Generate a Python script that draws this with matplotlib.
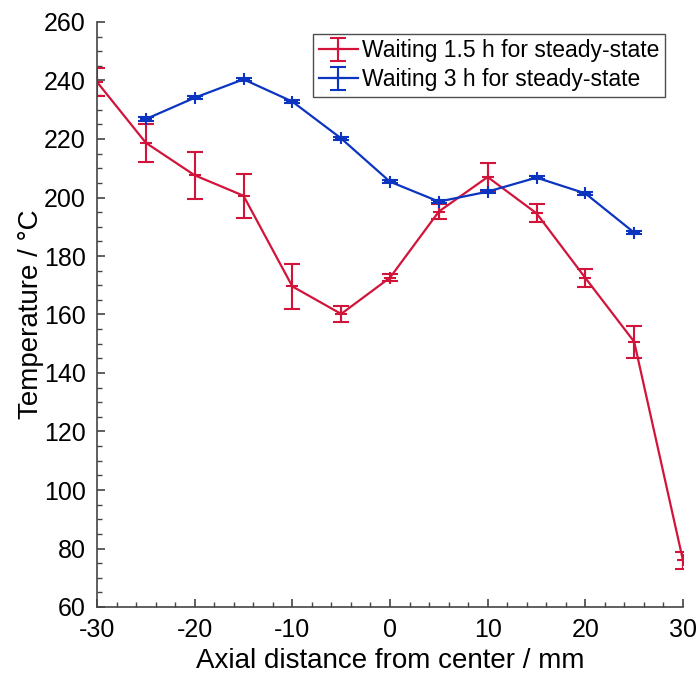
import numpy as np
import matplotlib.pyplot as plt

plt.rcParams['font.family'] = ['Liberation Sans', 'DejaVu Sans']
plt.rcParams['axes.unicode_minus'] = False

# Messpunkte (axial distance in mm)
x_15h = [-30, -25, -20, -15, -10, -5, 0, 5, 10, 15, 20, 25, 30]
t_15h = [239.5, 218.7, 207.6, 200.6, 169.6, 160.2, 172.6, 195.2, 207.0, 194.6, 172.5, 150.7, 75.9]
err_15h = [4.8, 6.5, 8.0, 7.5, 7.8, 2.7, 1.2, 2.6, 4.7, 3.1, 3.1, 5.5, 2.9]

x_3h = [-25, -20, -15, -10, -5, 0, 5, 10, 15, 20, 25]
t_3h = [226.8, 234.1, 240.4, 232.8, 220.2, 205.4, 198.6, 202.0, 206.8, 201.4, 188.0]
err_3h = [0.6, 0.5, 0.5, 0.5, 0.5, 0.5, 0.6, 0.6, 0.5, 0.5, 0.5]

RED = '#d2143a'
BLUE = '#0b35c0'

fig = plt.figure(figsize=(6.98, 6.77), dpi=100)
ax = fig.add_axes([97/698, 70/677, 586/698, 585/677])

ax.errorbar(x_15h, t_15h, yerr=err_15h, color=RED, lw=1.6, marker='+', ms=9, mew=1.5,
            capsize=6, capthick=1.5, elinewidth=1.5, label='Waiting 1.5 h for steady-state')
ax.errorbar(x_3h, t_3h, yerr=err_3h, color=BLUE, lw=1.6, marker='+', ms=9, mew=1.5,
            capsize=6, capthick=1.5, elinewidth=1.5, label='Waiting 3 h for steady-state')

ax.set_xlim(-30, 30)
ax.set_ylim(60, 260)
ax.set_xticks(np.arange(-30, 31, 10))
ax.set_xticks(np.arange(-30, 31, 2), minor=True)
ax.set_yticks(np.arange(60, 261, 20))
ax.set_yticks(np.arange(60, 261, 5), minor=True)

for s in ['top', 'right']:
    ax.spines[s].set_visible(False)
for s in ['left', 'bottom']:
    ax.spines[s].set_color('#444444')
    ax.spines[s].set_linewidth(1.2)

ax.tick_params(which='both', direction='in', color='#444444', labelsize=18)
ax.tick_params(which='major', length=6, width=1.2)
ax.tick_params(which='minor', length=3.5, width=1.0)
ax.tick_params(axis='x', pad=8)
ax.tick_params(axis='y', pad=8)

ax.set_xlabel('Axial distance from center / mm', fontsize=20, labelpad=4)
ax.set_ylabel('Temperature / °C', fontsize=20, labelpad=0)

leg = ax.legend(loc='upper right', bbox_to_anchor=(0.97, 0.98), fontsize=16.5, frameon=True,
                fancybox=False, edgecolor='#222222', handlelength=1.7, handletextpad=0.2,
                borderpad=0.25, labelspacing=0.25, borderaxespad=0)
leg.get_frame().set_linewidth(1.0)

fig.savefig('out.png', dpi=100)
